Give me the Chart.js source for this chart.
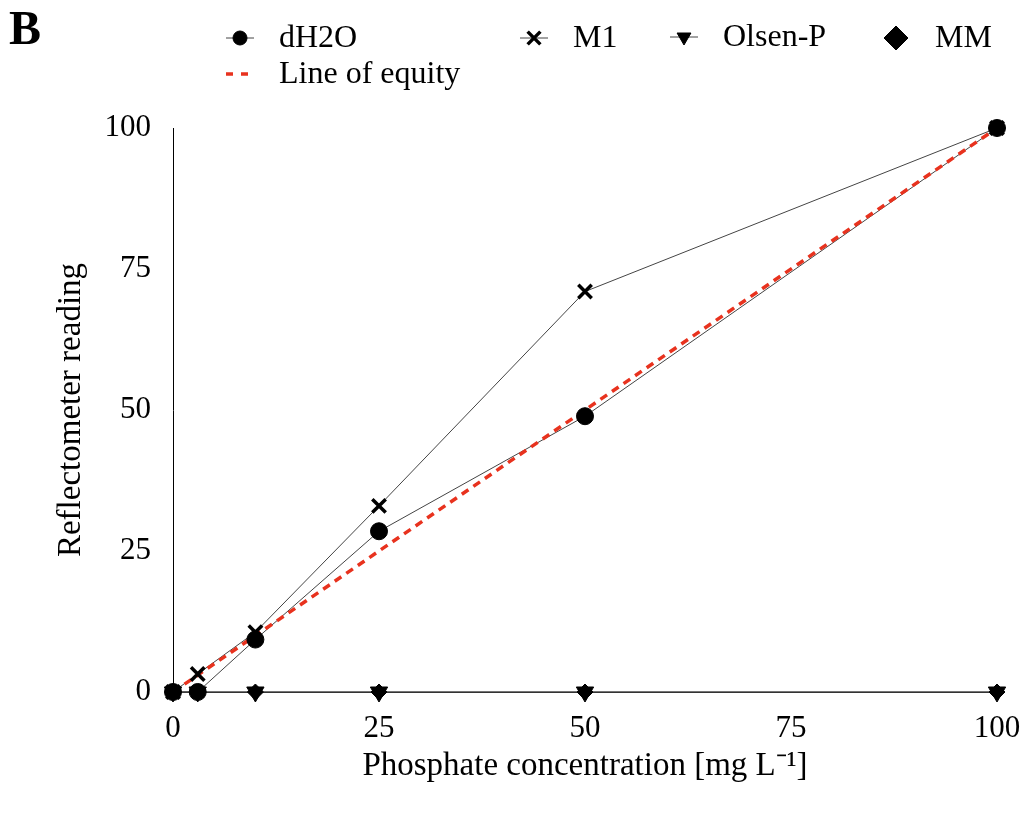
<!DOCTYPE html>
<html>
<head>
<meta charset="utf-8">
<script src="https://cdn.jsdelivr.net/npm/chart.js@4"></script>
<style>
  html, body { margin: 0; padding: 0; background: #fff; }
  #wrap { position: relative; width: 1028px; height: 813px; }
</style>
</head>
<body>
<div id="wrap"><canvas id="myChart" width="1028" height="813"></canvas></div>
<script>
// concentrations of the standards, mg/L
const concentrations = [0, 3, 10, 25, 50, 100];
// reflectometer readings per extractant
const dH2O = [0, 0, 9.3, 28.5, 48.9, 100];
const M1 = [0, 3.2, 10.6, 33, 71, 100];
const olsenP = [0, 0, 0, 0, 0, 0];
const MM = [0, 0, 0, 0, 0, 0];
const equity = [0, 100];
const equityX = [0, 100];
const tickValues = [0, 25, 50, 75, 100];

const FONT = '"Liberation Serif", "Times New Roman", serif';
const ctx = document.getElementById('myChart');

function toPoints(xs, ys) {
    return xs.map((x, i) => ({x: x, y: ys[i]}));
}

// thin connecting line, no markers
function lineSet(ys) {
    return {
        type: 'line',
        data: toPoints(concentrations, ys),
        borderColor: '#444',
        borderWidth: 1,
        pointRadius: 0,
        fill: false,
        order: 3
    };
}

// markers only, drawn on top of everything
function markerSet(ys, style, radius, rot) {
    return {
        type: 'scatter',
        data: toPoints(concentrations, ys),
        pointStyle: style,
        pointRadius: radius,
        rotation: rot || 0,
        backgroundColor: '#000',
        borderColor: '#000',
        borderWidth: style === 'crossRot' ? 3.5 : 1,
        showLine: false,
        order: 1
    };
}

const legendItems = [
    {label: 'dH2O', style: 'circle', r: 7, line: true, x: 240, y: 38},
    {label: 'M1', style: 'crossRot', r: 9, line: true, x: 534, y: 38},
    {label: 'Olsen-P', style: 'triangle', r: 8, rot: 180, line: true, x: 684, y: 37},
    {label: 'MM', style: 'rectRot', r: 12, line: false, x: 896, y: 38},
    {label: 'Line of equity', dashed: true, x: 240, y: 74}
];

// legend and panel letter drawn by hand
const customLegend = {
    id: 'customLegend',
    afterDraw(chart) {
        const c = chart.ctx;
        c.save();
        c.fillStyle = '#000';
        c.font = 'bold 48px ' + FONT;
        c.textBaseline = 'alphabetic';
        c.textAlign = 'left';
        c.fillText('B', 9, 44);

        c.font = '32px ' + FONT;
        c.textBaseline = 'middle';
        legendItems.forEach(it => {
            if (it.dashed) {
                c.strokeStyle = '#e8321e';
                c.lineWidth = 3.5;
                c.setLineDash([7, 8]);
                c.beginPath();
                c.moveTo(it.x - 14, it.y);
                c.lineTo(it.x + 15, it.y);
                c.stroke();
                c.setLineDash([]);
            } else {
                if (it.line) {
                    c.strokeStyle = '#444';
                    c.lineWidth = 1;
                    c.beginPath();
                    c.moveTo(it.x - 14, it.y);
                    c.lineTo(it.x + 14, it.y);
                    c.stroke();
                }
                c.strokeStyle = '#000';
                c.fillStyle = '#000';
                c.lineWidth = it.style === 'crossRot' ? 3.5 : 1;
                Chart.helpers.drawPoint(c, {
                    pointStyle: it.style, radius: it.r, rotation: it.rot || 0, borderWidth: c.lineWidth
                }, it.x, it.y);
            }
            c.fillStyle = '#000';
            c.fillText(it.label, it.x + 39, it.y + 1);
        });
        c.restore();
    }
};

new Chart(ctx, {
    data: {
        datasets: [
            lineSet(dH2O),
            lineSet(M1),
            lineSet(olsenP),
            lineSet(MM),
            {
                type: 'line',
                data: toPoints(equityX, equity),
                borderColor: '#e8321e',
                borderWidth: 3.5,
                borderDash: [8, 6],
                pointRadius: 0,
                fill: false,
                order: 2
            },
            // first listed is painted last, so circles end up on top
            markerSet(dH2O, 'circle', 8.5),
            markerSet(M1, 'crossRot', 9.5),
            markerSet(olsenP, 'triangle', 10, 180),
            markerSet(MM, 'rectRot', 8)
        ]
    },
    options: {
        responsive: false,
        animation: false,
        clip: false,
        layout: {padding: {left: 48, right: 31, top: 128, bottom: 23}},
        plugins: {legend: {display: false}, tooltip: {enabled: false}},
        scales: {
            x: {
                type: 'linear',
                min: 0,
                max: 100,
                afterBuildTicks: s => { s.ticks = tickValues.map(v => ({value: v})); },
                afterFit: s => { s.height = 98; s.paddingRight = 0; s.paddingLeft = 0; },
                grid: {display: false, drawTicks: false},
                border: {display: true, color: '#000', width: 1},
                ticks: {color: '#000', font: {family: FONT, size: 31}, padding: 18, maxRotation: 0},
                title: {display: true, text: 'Phosphate concentration [mg L⁻¹]', color: '#000',
                    font: {family: FONT, size: 33}, padding: {top: 0}}
            },
            y: {
                type: 'linear',
                min: 0,
                max: 100,
                afterBuildTicks: s => { s.ticks = tickValues.map(v => ({value: v})); },
                afterFit: s => { s.width = 125; },
                grid: {display: false, drawTicks: false},
                border: {display: true, color: '#000', width: 1},
                ticks: {color: '#000', font: {family: FONT, size: 31}, padding: 22},
                title: {display: true, text: 'Reflectometer reading', color: '#000',
                    font: {family: FONT, size: 33}, padding: {bottom: 0}}
            }
        }
    },
    plugins: [customLegend]
});
</script>
</body>
</html>
